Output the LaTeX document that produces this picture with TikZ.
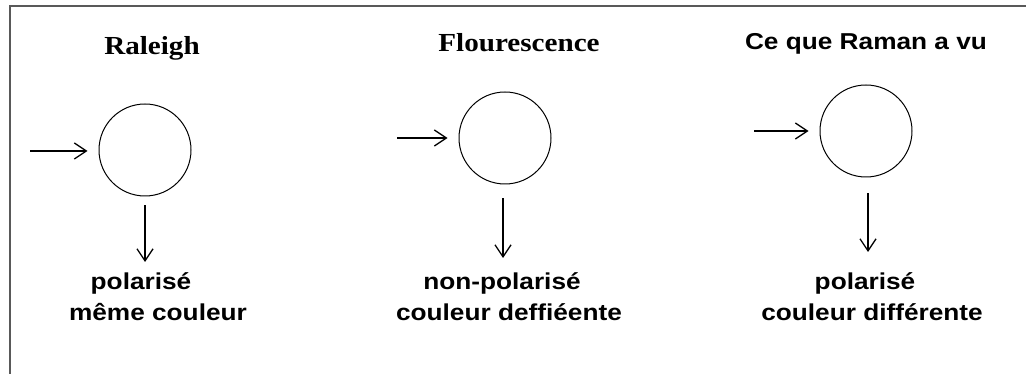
\documentclass[tikz,border=0pt]{standalone}
\usepackage{fontspec}
\usetikzlibrary{arrows.meta}
\newfontfamily\titlefont{Liberation Serif}[FakeStretch=1.12]
\newfontfamily\labelfont{Liberation Sans}[FakeStretch=1.14]
\begin{document}
\begin{tikzpicture}[x=1pt,y=-1pt,
  sample/.style={draw,circle,line width=1pt,minimum size=92pt,inner sep=0pt},
  arr/.style={line width=1.3pt,-{Straight Barb[length=12pt,width=16pt,line width=1.3pt]}},
  stitle/.style={anchor=base,inner sep=0pt,font=\titlefont\bfseries\fontsize{26}{30}\selectfont},
  ltitle/.style={anchor=base,inner sep=0pt,font=\labelfont\bfseries\fontsize{23}{30}\selectfont},
  lbl/.style={anchor=base,inner sep=0pt,font=\labelfont\bfseries\fontsize{23}{30}\selectfont}]
\useasboundingbox (0,0) rectangle (1026,374);
\draw[line width=2pt,black!65] (10,374) -- (10,6) -- (1026,6);
\node[stitle] (t1) at (152,55) {Raleigh};
\node[stitle] (t2) at (519,52) {Flourescence};
\node[ltitle] (t3) at (866,50) {Ce que Raman a vu};
\node[sample] (c1) at (145,150) {};
\node[sample] (c2) at (505,138) {};
\node[sample] (c3) at (866,131) {};
\coordinate (i1) at (30,151);
\coordinate (i2) at (397,138);
\coordinate (i3) at (754,131);
\coordinate (d1) at (145,262);
\coordinate (d2) at (503,258);
\coordinate (d3) at (868,252);
\draw[arr,shorten >=11pt] (i1) -- (i1 -| c1.west);
\draw[arr,shorten >=11pt] (i2) -- (i2 -| c2.west);
\draw[arr,shorten >=11pt] (i3) -- (i3 -| c3.west);
\draw[arr,shorten <=9pt] (d1 |- c1.south) -- (d1);
\draw[arr,shorten <=14pt] (d2 |- c2.south) -- (d2);
\draw[arr,shorten <=16pt] (d3 |- c3.south) -- (d3);
\node[lbl] (p1) at (141,290) {polarisé};
\node[lbl] (m1) at (158,320) {même couleur};
\node[lbl] (p2) at (502,290) {non-polarisé};
\node[lbl] (m2) at (509,320) {couleur deffiéente};
\node[lbl] (p3) at (865,290) {polarisé};
\node[lbl] (m3) at (872,320) {couleur différente};
\end{tikzpicture}
\end{document}
